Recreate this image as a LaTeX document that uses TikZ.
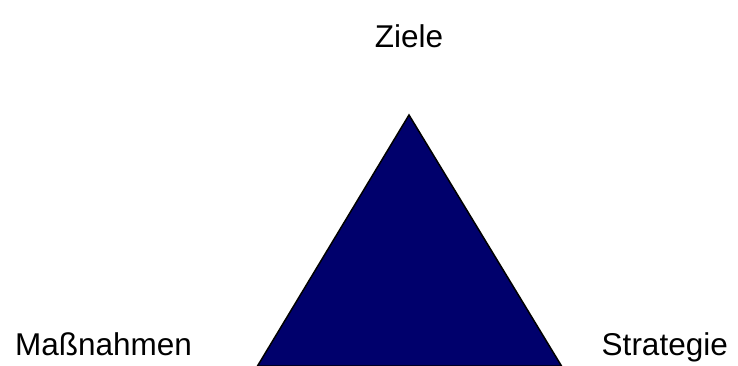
\documentclass[tikz,border=0pt]{standalone}
\usepackage{fontspec}
\setmainfont{Liberation Sans}
\definecolor{navyfill}{RGB}{0,0,108}
\begin{document}
\begin{tikzpicture}[x=1pt,y=-1pt,
  lbl/.style={font=\fontsize{31.5}{37}\selectfont, inner sep=0pt, anchor=base}]
\useasboundingbox (0,0) rectangle (738,365);
\fill[white] (0,0) rectangle (738,365);
\draw[fill=navyfill, draw=black, line width=1.5pt, line join=miter] (409,115) -- (561.5,366) -- (257.5,366) -- cycle;
\node[lbl] (ziele) at (409,47) {Ziele};
\node[lbl, anchor=base west] (massnahmen) at (15,355) {Maßnahmen};
\node[lbl, anchor=base east] (strategie) at (728,355) {Strategie};
\end{tikzpicture}
\end{document}
